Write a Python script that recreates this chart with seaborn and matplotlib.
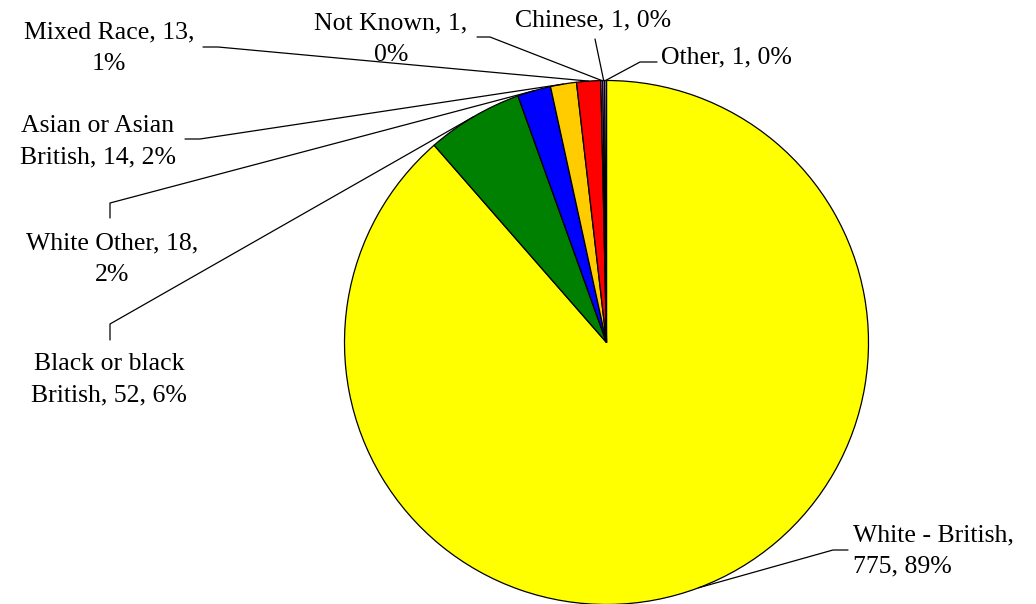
import numpy as np
import matplotlib
matplotlib.use("Agg")
import matplotlib.pyplot as plt
import seaborn as sns

# data
names = ['White - British', 'Black or black British', 'White Other', 'Asian or Asian British',
         'Mixed Race', 'Not Known', 'Chinese', 'Other']
counts = [775, 52, 18, 14, 13, 1, 1, 1]
colours = ['#FFFF00', '#008000', '#0000FF', '#FFCC00', '#FF0000', '#CC99FF', '#CC99FF', '#CC99FF']
breaks = ['British,', 'black', '18,', 'Asian or Asian', '13,', '1,', None, None]

sns.set_style("white")
plt.rcParams['font.family'] = ['Liberation Serif', 'DejaVu Serif']

W, H = 1036, 604
CX, CY, R = 606.5, 342.5, 262.0   # pie centre / radius in pixels


def px(x, y):
    return (x - CX) / R, (CY - y) / R


fig = plt.figure(figsize=(W / 100, H / 100), dpi=100)
ax = fig.add_axes([0, 0, 1, 1])
wedges, _ = ax.pie(counts, colors=sns.color_palette(colours), startangle=90, counterclock=False,
                   radius=1, wedgeprops=dict(edgecolor='black', linewidth=0.9))
ax.set_aspect('equal')
ax.set_xlim(-CX / R, (W - CX) / R)
ax.set_ylim(-(H - CY) / R, CY / R)
ax.axis('off')

total = sum(counts)
# label placement: text position (px), alignment, leader points from text towards the pie
layout = [
    ((853, 551), 'left', [(848, 550), (833, 550)]),
    ((109, 380), 'center', [(110, 340), (110, 324)]),
    ((112, 259), 'center', [(110, 218), (110, 203)]),
    ((98, 142), 'center', [(185, 139), (200, 139)]),
    ((109, 48), 'center', [(203, 47), (218, 47)]),
    ((391, 39), 'center', [(477, 37), (490, 37)]),
    ((593, 20), 'center', [(595, 39)]),
    ((661, 57), 'left', [(657, 62), (640, 62)]),
]

for w, name, c, b, (tpos, ha, pts) in zip(wedges, names, counts, breaks, layout):
    pct = int(round(100 * c / total))
    txt = f"{name}, {c}, {pct}%"
    if b:
        txt = txt.replace(b + ' ', b + '\n', 1)
    ax.text(*px(*tpos), txt, ha=ha, va='center', fontsize=18.5, color='black',
            linespacing=1.55, multialignment=ha)
    mid = np.deg2rad((w.theta1 + w.theta2) / 2)
    edge = (np.cos(mid), np.sin(mid))
    xs = [px(*p)[0] for p in pts] + [edge[0]]
    ys = [px(*p)[1] for p in pts] + [edge[1]]
    ax.plot(xs, ys, color='black', linewidth=0.9)

fig.savefig('out.png', dpi=100, facecolor='white')
